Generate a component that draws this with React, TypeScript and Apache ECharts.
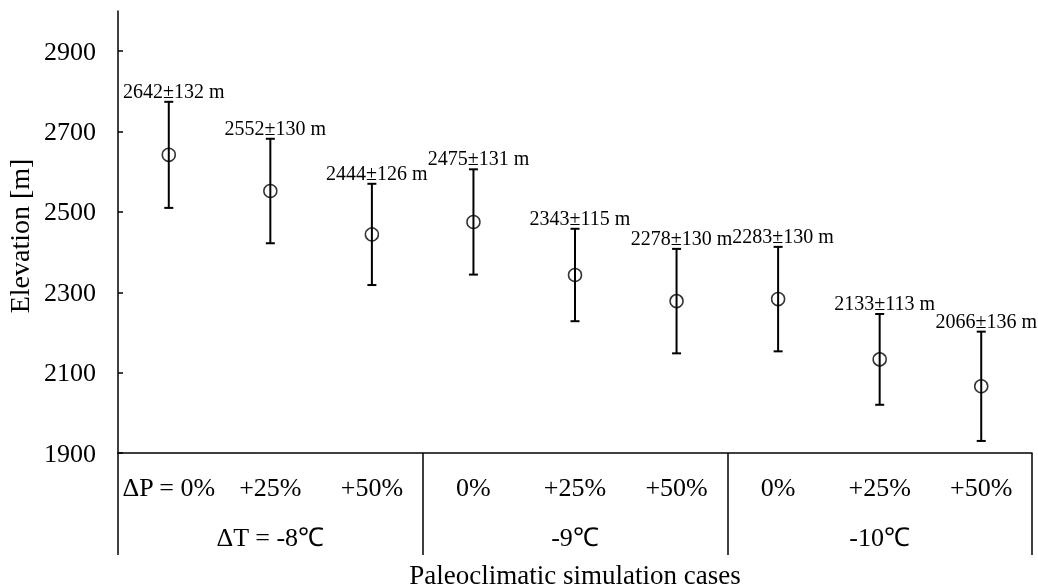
import React, { useEffect, useRef } from "react";
import * as echarts from "echarts";

const categories = ["ΔP = 0%", "+25%", "+50%", "0%", "+25%", "+50%", "0%", "+25%", "+50%"];
const groups = ["ΔT = -8℃", "-9℃", "-10℃"];
const elevations = [2642, 2552, 2444, 2475, 2343, 2278, 2283, 2133, 2066];
const errors = [132, 130, 126, 131, 115, 130, 130, 113, 136];
const yTicks = [1900, 2100, 2300, 2500, 2700, 2900];

const FONT = '"Liberation Serif", "Times New Roman", serif';
const BLACK = "#000";

export default function App() {
  const ref = useRef<HTMLDivElement>(null);
  useEffect(() => {
    const chart = echarts.init(ref.current!, null, { renderer: "svg" });
    const errData = elevations.map((v, i) => [i, v, errors[i]]);
    const ptData = elevations.map((v, i) => [i, v]);
    chart.setOption({
      animation: false,
      grid: { left: 118, right: 6, top: 11, bottom: 135, containLabel: false, outerBoundsMode: "none" },
      xAxis: [
        {
          type: "category",
          data: categories,
          boundaryGap: true,
          position: "bottom",
          axisLine: { lineStyle: { color: BLACK, width: 1.5 } },
          axisTick: { alignWithLabel: true, inside: true, length: 5, lineStyle: { color: BLACK, width: 1.5 } },
          axisLabel: { interval: 0, margin: 21, color: BLACK, fontFamily: FONT, fontSize: 26 },
          splitLine: { show: false },
        },
        {
          type: "category",
          data: groups,
          boundaryGap: true,
          position: "bottom",
          gridIndex: 0,
          axisLine: { show: false },
          axisTick: { show: true, interval: 0, length: 102, lineStyle: { color: BLACK, width: 1.5 } },
          axisLabel: { interval: 0, margin: 71, color: BLACK, fontFamily: FONT, fontSize: 26 },
          name: "Paleoclimatic simulation cases",
          nameLocation: "middle",
          nameGap: 108,
          nameTextStyle: { color: BLACK, fontFamily: FONT, fontSize: 27 },
          splitLine: { show: false },
        },
      ],
      yAxis: {
        type: "value",
        min: 1900,
        max: 3000,
        interval: 100,
        name: "Elevation [m]",
        nameLocation: "middle",
        nameGap: 84,
        nameTextStyle: { color: BLACK, fontFamily: FONT, fontSize: 28, padding: [0, 8, 0, 0] },
        axisLine: { show: true, lineStyle: { color: BLACK, width: 1.5 } },
        axisTick: { show: true, inside: true, length: 5, customValues: yTicks, lineStyle: { color: BLACK, width: 1.5 } },
        axisLabel: {
          customValues: yTicks,
          margin: 22,
          color: BLACK,
          fontFamily: FONT,
          fontSize: 26,
          formatter: (v: number) => String(v),
        },
        splitLine: { show: false },
      },
      series: [
        {
          type: "custom",
          xAxisIndex: 0,
          data: errData,
          encode: { x: 0, y: 1 },
          z: 2,
          renderItem: (params: any, api: any) => {
            const x = api.value(0);
            const v = api.value(1);
            const e = api.value(2);
            const top = api.coord([x, v + e]);
            const bot = api.coord([x, v - e]);
            const cx = top[0];
            const ls = { stroke: BLACK, lineWidth: 2 };
            return {
              type: "group",
              children: [
                { type: "line", shape: { x1: cx, y1: top[1], x2: cx, y2: bot[1] }, style: ls },
                { type: "line", shape: { x1: cx - 4.5, y1: top[1], x2: cx + 4.5, y2: top[1] }, style: ls },
                { type: "line", shape: { x1: cx - 4.5, y1: bot[1], x2: cx + 4.5, y2: bot[1] }, style: ls },
                {
                  type: "text",
                  x: cx + 5,
                  y: top[1] - 1,
                  style: {
                    text: `${v}±${e} m`,
                    textAlign: "center",
                    textVerticalAlign: "bottom",
                    fontFamily: FONT,
                    fontSize: 20,
                    fill: BLACK,
                  },
                },
              ],
            };
          },
        },
        {
          type: "scatter",
          xAxisIndex: 0,
          data: ptData,
          symbol: "circle",
          symbolSize: 13,
          z: 3,
          itemStyle: { color: "transparent", borderColor: BLACK, borderWidth: 1.5 },
        },
      ],
    });
    return () => chart.dispose();
  }, []);
  return <div ref={ref} style={{ position: "fixed", left: 0, top: 0, width: 1038, height: 588 }} />;
}
